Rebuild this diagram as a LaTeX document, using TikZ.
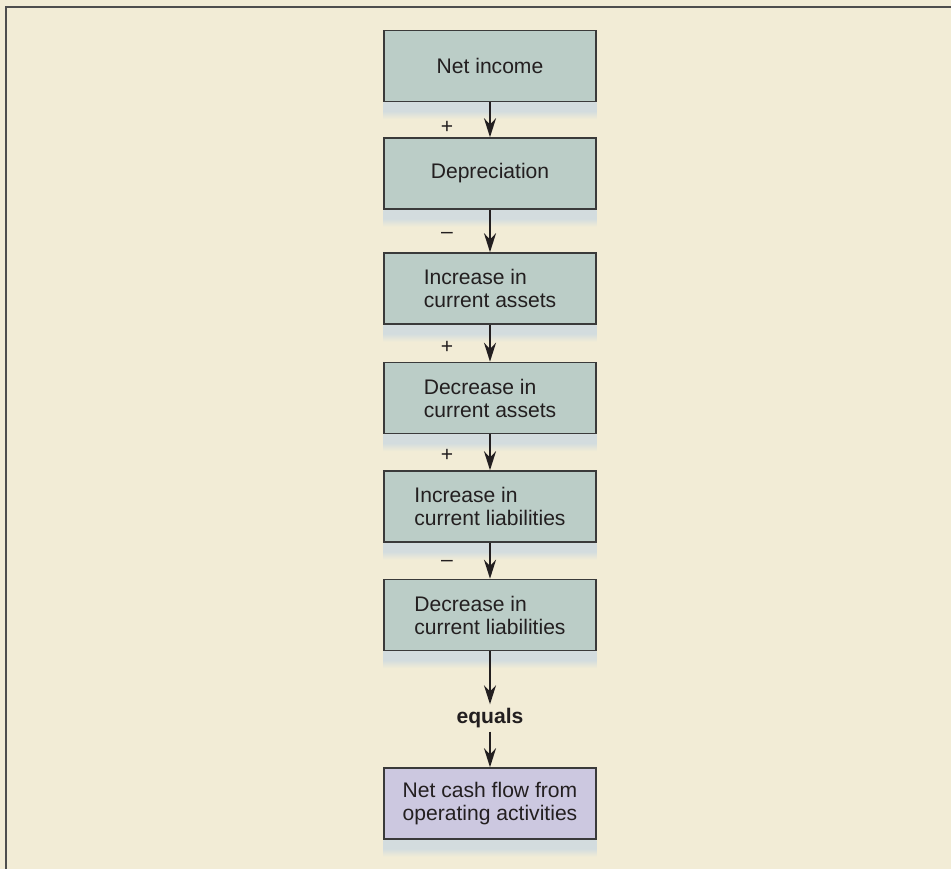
\documentclass[tikz,border=0pt]{standalone}
\usepackage{fontspec}
\setmainfont{Liberation Sans}
\usetikzlibrary{arrows.meta}
\definecolor{pagebg}{HTML}{F2ECD6}
\definecolor{boxfill}{HTML}{BBCDC7}
\definecolor{endfill}{HTML}{CCC8E0}
\definecolor{shadowc}{HTML}{D3DCDE}
\definecolor{edgec}{HTML}{3A3A3A}
\definecolor{inkc}{HTML}{231F20}
\tikzset{
  flowbox/.style={draw=edgec, line width=0.03cm, fill=boxfill, text=inkc, minimum width=4.24cm,
    minimum height=1.42cm, align=left, font=\fontsize{12}{13.1}\selectfont},
  endbox/.style={flowbox, fill=endfill},
  sign/.style={text=inkc, font=\fontsize{12}{13}\selectfont},
  flow/.style={-{Stealth[length=0.38cm,width=0.24cm]}, line width=0.045cm, draw=inkc},
}
\begin{document}
\begin{tikzpicture}[x=0.02cm,y=-0.02cm]
  \fill[pagebg] (0,0) rectangle (951,869);
  \useasboundingbox (0,0) rectangle (951,869);
  \draw[edgec!90, line width=0.045cm] (6,869) -- (6,7) -- (951,7);
  % the chain of boxes
  \node[flowbox] (ni)  at (490,66)    {Net income};
  \node[flowbox] (dep) at (490,173.5) {Depreciation};
  \node[flowbox] (ica) at (490,288.5) {Increase in\\current assets};
  \node[flowbox] (dca) at (490,398)   {Decrease in\\current assets};
  \node[flowbox] (icl) at (490,506.5) {Increase in\\current liabilities};
  \node[flowbox] (dcl) at (490,615)   {Decrease in\\current liabilities};
  \node[endbox]  (ncf) at (490,803.5) {Net cash flow from\\operating activities};
  \foreach \b in {ni,dep,ica,dca,icl,dcl,ncf}
    \shade[top color=shadowc, bottom color=pagebg, middle color=shadowc]
      ([yshift=-0.015cm]\b.south west) rectangle ([yshift=-0.34cm]\b.south east);
  % arrows and signs
  \node[text=inkc, font=\fontsize{12}{13}\selectfont\bfseries, inner ysep=2pt] (eq) at (490,718) {equals};
  \draw[flow] (ni) -- (dep);
  \draw[flow] (dep) -- (ica);
  \draw[flow] (ica) -- (dca);
  \draw[flow] (dca) -- (icl);
  \draw[flow] (icl) -- (dcl);
  \draw[flow] (dcl) -- (eq);
  \draw[flow] (eq) -- (ncf);
  \node[sign] (s1) at (447,127) {+};
  \node[sign] (s2) at (447,235) {–};
  \node[sign] (s3) at (447,347) {+};
  \node[sign] (s4) at (447,455) {+};
  \node[sign] (s5) at (447,563) {–};
\end{tikzpicture}
\end{document}
